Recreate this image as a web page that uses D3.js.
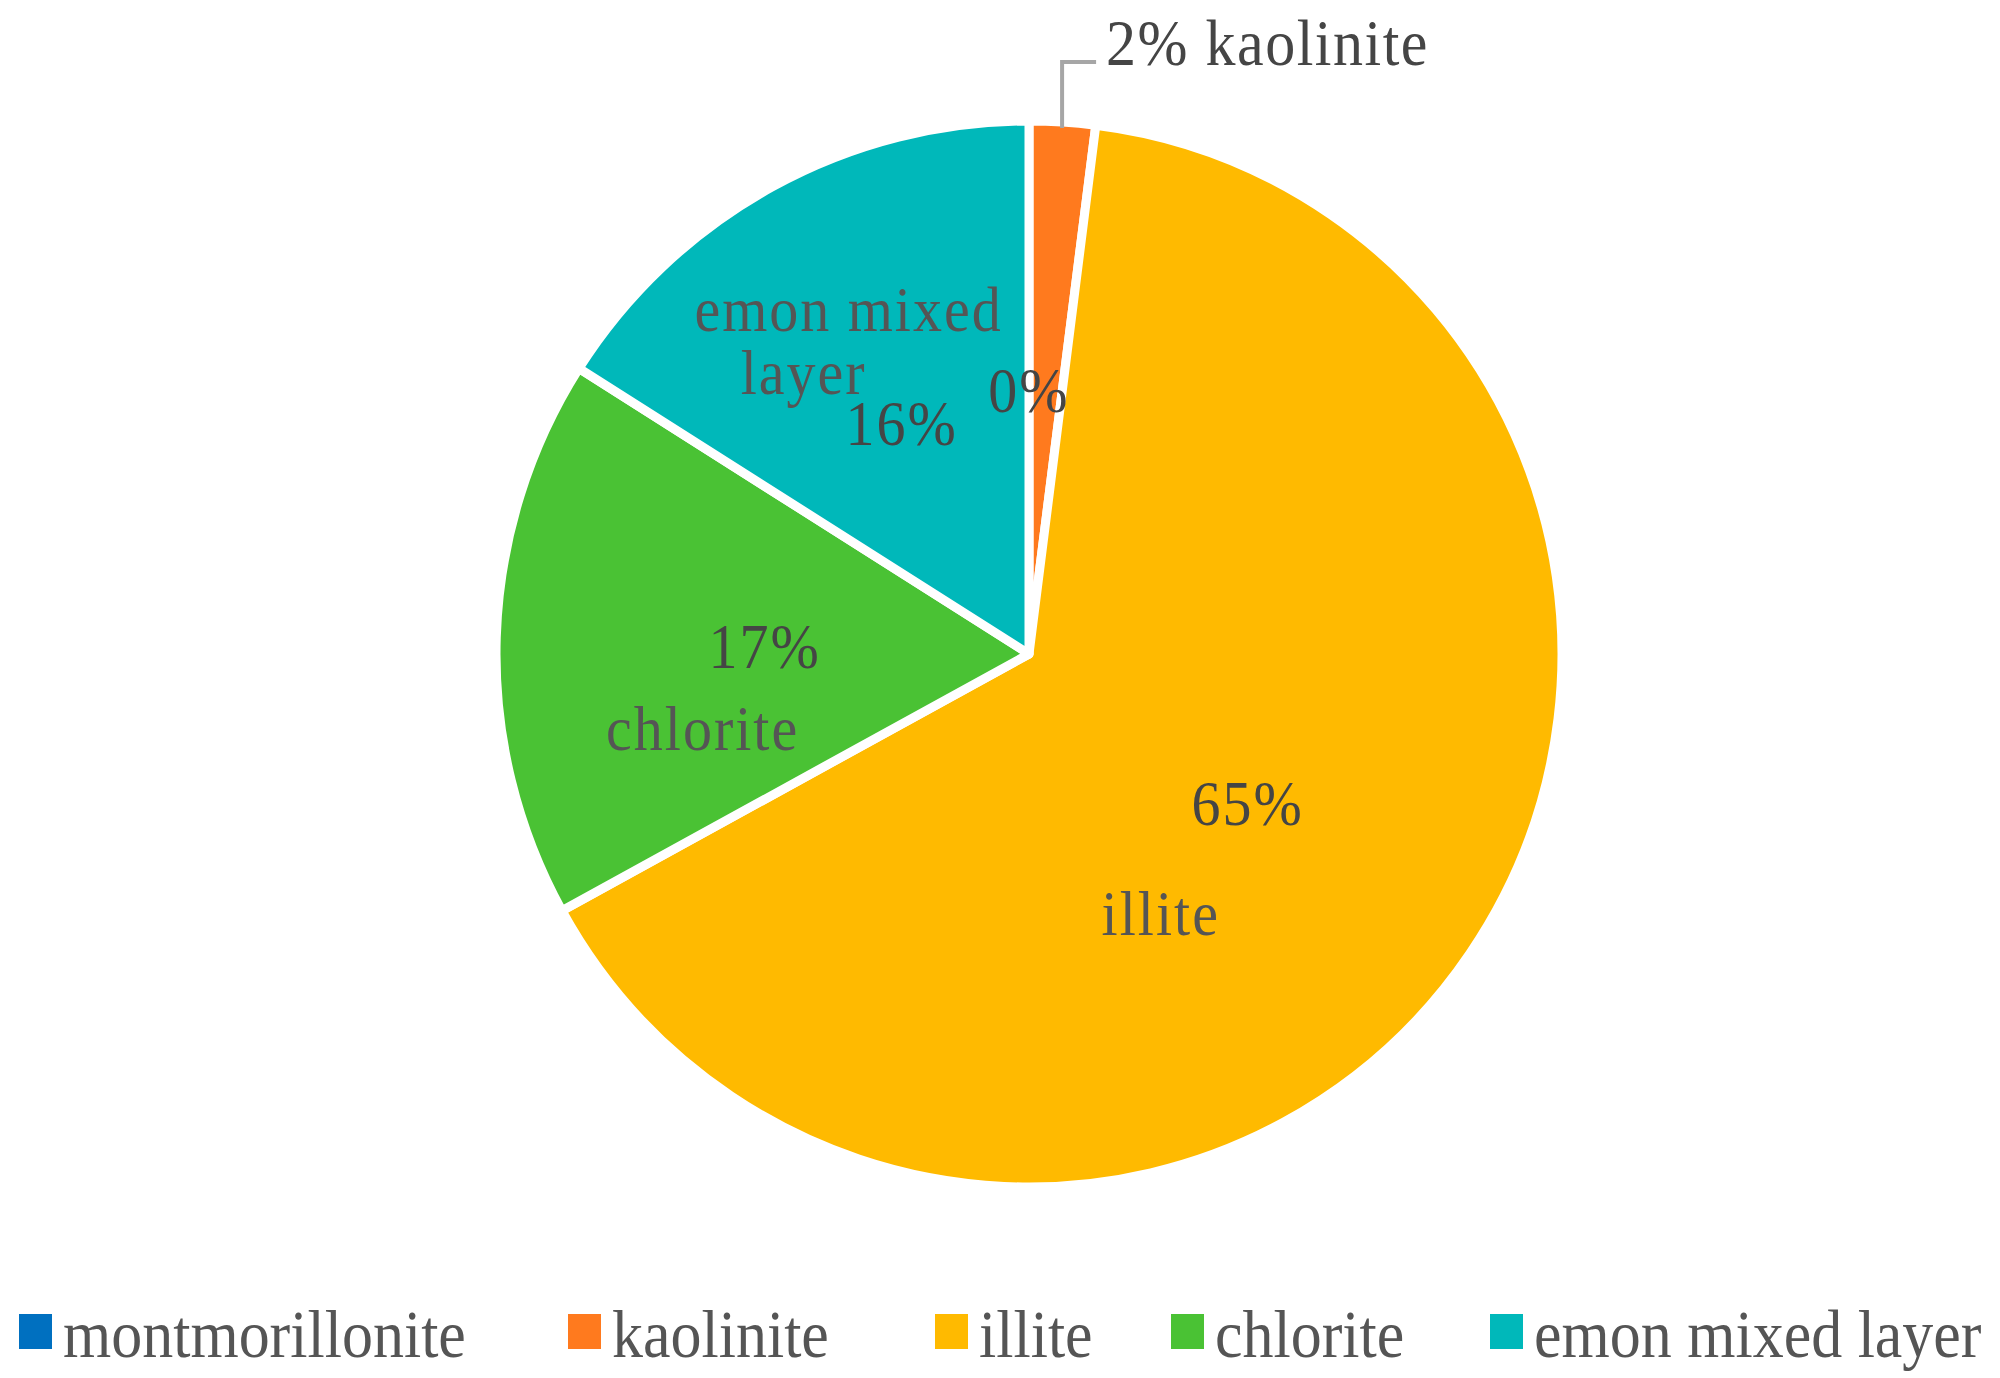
<!DOCTYPE html>
<html>
<head>
<meta charset="utf-8">
<script src="https://cdn.jsdelivr.net/npm/d3@7"></script>
<style>
  html, body { margin: 0; padding: 0; background: #fff; }
  svg { display: block; }
</style>
</head>
<body>
<svg id="chart" width="2000" height="1378"></svg>
<script>
// clay mineral composition (%)
var categories = ["montmorillonite", "kaolinite", "illite", "chlorite", "emon mixed layer"];
var values = [0, 2, 65, 17, 16];
var colors = ["#0070C0", "#FF7A1E", "#FFBA00", "#4AC234", "#00B8BA"];

// how the category name sits relative to the percent label (wrapped lines + offsets)
var nameLines = {
  "montmorillonite": null,
  "illite": {dx: -87, dy: 110, lines: [{t: "illite", x: 0}]},
  "chlorite": {dx: -62, dy: 82, lines: [{t: "chlorite", x: 0}]},
  "emon mixed layer": {dx: -53, dy: -114, lines: [{t: "emon mixed", x: 0}, {t: "layer", x: -45}]}
};

var svg = d3.select("#chart"),
    width = +svg.attr("width"),
    height = +svg.attr("height"),
    cx = 1029,
    cy = 654,
    R = 533;

var data = categories.map(function (c, i) { return {name: c, value: values[i], color: colors[i]}; });

var pie = d3.pie().sort(null).value(function (d) { return d.value; });
var arc = d3.arc().innerRadius(0).outerRadius(R);
var labelArc = d3.arc().innerRadius(0.5 * 529).outerRadius(0.5 * 529);

svg.append("rect").attr("width", width).attr("height", height).attr("fill", "#fff");

var g = svg.append("g").attr("transform", "translate(" + cx + "," + cy + ")");
var arcs = pie(data);

g.selectAll("path.slice")
  .data(arcs)
  .enter().append("path")
  .attr("class", "slice")
  .attr("d", arc)
  .attr("fill", function (d) { return d.data.color; })
  .attr("stroke", "#fff")
  .attr("stroke-width", 9)
  .attr("stroke-linejoin", "round");

var font = "'Liberation Serif', 'Times New Roman', serif";
var txtColor = "#454545";
var yStretch = 1.1;

function label(parent, x, y, str, opts) {
  return parent.append("text")
    .attr("transform", "translate(" + x + "," + y + ") scale(1," + yStretch + ")")
    .attr("dy", "0.35em")
    .attr("text-anchor", opts.anchor || "middle")
    .attr("font-family", font)
    .attr("font-size", opts.size)
    .attr("letter-spacing", opts.spacing || 0)
    .attr("fill", opts.color)
    .text(str);
}

// inside labels
arcs.forEach(function (d) {
  if (d.data.name === "kaolinite") return;
  var c = labelArc.centroid(d);
  label(g, c[0], c[1], d3.format(".0%")(d.data.value / 100), {size: 58, spacing: 2, color: txtColor});
  var nl = nameLines[d.data.name];
  if (!nl) return;
  var t = label(g, c[0] + nl.dx, c[1] + nl.dy, "", {size: 58, spacing: 2, color: "#555"});
  nl.lines.forEach(function (l, i) {
    t.append("tspan")
      .attr("x", l.x)
      .attr("y", 0)
      .attr("dy", (0.35 + i * 1.0) + "em")
      .text(l.t);
  });
});

// kaolinite: outside label with leader line
var kao = arcs[1];
var mid = (kao.startAngle + kao.endAngle) / 2;
var px = Math.sin(mid) * (R - 6), py = -Math.cos(mid) * (R - 6);
var elbowY = py - 66;
g.append("polyline")
  .attr("points", [[px, py], [px, elbowY], [px + 34, elbowY]].map(function (p) { return p.join(","); }).join(" "))
  .attr("fill", "none")
  .attr("stroke", "#A6A6A6")
  .attr("stroke-width", 4);
label(g, px + 44, elbowY - 20, d3.format(".0%")(kao.data.value / 100) + " " + kao.data.name,
  {size: 60, spacing: 1.5, color: txtColor, anchor: "start"});

// legend
var legendX = [19, 568, 935, 1171, 1490];
var legend = svg.append("g").attr("class", "legend");
var items = legend.selectAll("g")
  .data(data)
  .enter().append("g")
  .attr("transform", function (d, i) { return "translate(" + legendX[i] + ",1314)"; });
items.append("rect")
  .attr("width", 33).attr("height", 35)
  .attr("fill", function (d) { return d.color; });
items.each(function (d) {
  label(d3.select(this), 44, 19, d.name, {size: 62, color: "#555", anchor: "start"});
});
</script>
</body>
</html>
